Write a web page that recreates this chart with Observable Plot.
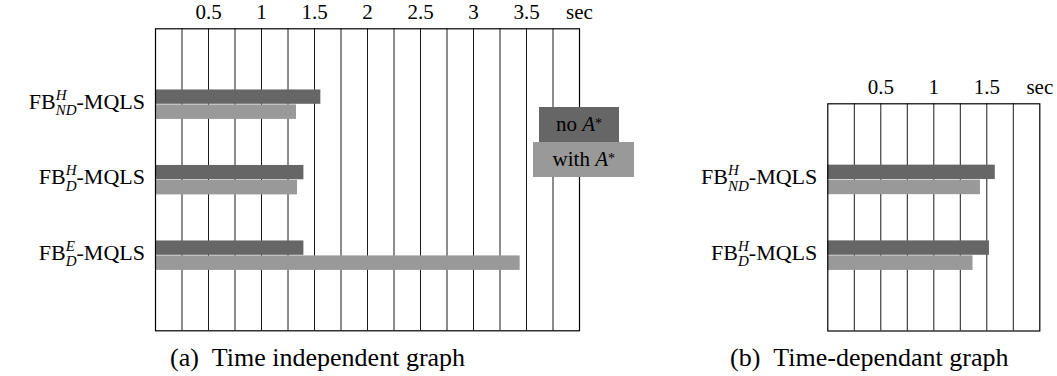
<!DOCTYPE html>
<html><head><meta charset="utf-8">
<script src="https://cdn.jsdelivr.net/npm/d3@7"></script>
<script src="https://cdn.jsdelivr.net/npm/@observablehq/plot@0.6"></script>
<style>
html,body{margin:0;padding:0;background:#fff;}
#wrap{position:relative;width:1057px;height:376px;overflow:hidden;font-family:'Liberation Serif','Tinos','Times New Roman',serif;color:#000;}
.panel{position:absolute;top:0;}
.cap{position:absolute;font-size:26px;white-space:nowrap;line-height:26px;font-family:'Liberation Serif','Tinos',serif;}
.leg{position:absolute;font-size:21px;display:flex;align-items:center;justify-content:center;box-sizing:border-box;line-height:1;font-family:'Liberation Serif','Tinos',serif;}
.leg sup{font-size:14px;line-height:0;vertical-align:9px;}
</style></head><body><div id="wrap"></div>
<script>
// ---- data ----
const categoriesA = ["FB^H_ND-MQLS", "FB^H_D-MQLS", "FB^E_D-MQLS"];
const noAStarA   = [1.56, 1.40, 1.40];
const withAStarA = [1.33, 1.34, 3.44];
const categoriesB = ["FB^H_ND-MQLS", "FB^H_D-MQLS"];
const noAStarB   = [1.58, 1.525];
const withAStarB = [1.44, 1.37];
const xTicksA = [0.5, 1, 1.5, 2, 2.5, 3, 3.5];
const xTicksB = [0.5, 1, 1.5];
const unitLabel = "sec";
const seriesNames = ["no A*", "with A*"];
const seriesColors = ["#666666", "#999999"];
const captions = ["(a)\u2002Time independent graph", "(b)\u2002Time-dependant graph"];

const FONT = "'Liberation Serif', 'Tinos', serif";
const wrap = document.getElementById("wrap");

function panel({cats, noA, withA, ticks, xMax, left, width, height, ml, mr, mt, mb}) {
  const rows = cats.map((c, i) => ({cat: c, pos: i + 1, no: noA[i], wi: withA[i]}));
  const grid = d3.range(0.25, xMax, 0.25);
  const plot = Plot.plot({
    width, height, marginLeft: ml, marginRight: mr, marginTop: mt, marginBottom: mb,
    x: {domain: [0, xMax], axis: null},
    y: {domain: [0, cats.length + 1], reverse: true, axis: null},
    style: {fontFamily: FONT, fontSize: "21px", background: "transparent", overflow: "visible", color: "#000"},
    marks: [
      Plot.ruleX(grid, {stroke: "#1a1a1a", strokeWidth: 1}),
      Plot.rect(rows, {x1: 0, x2: "no", y1: d => d.pos - 0.19, y2: d => d.pos, fill: seriesColors[0]}),
      Plot.rect(rows, {x1: 0, x2: "wi", y1: d => d.pos + 0.008, y2: d => d.pos + 0.2, fill: seriesColors[1]}),
      Plot.frame({stroke: "#000", strokeWidth: 1.2}),
      Plot.axisX(ticks.concat([xMax]), {anchor: "top", tickSize: 0, tickPadding: 10, fontSize: 21,
        fontFamily: FONT, tickFormat: d => d === xMax ? unitLabel : String(d)})
    ]
  });
  plot.classList.add("panel");
  plot.style.left = left + "px";
  wrap.appendChild(plot);
  // category labels with stacked super/subscripts
  const ys = plot.scale("y");
  const ctx = document.createElement("canvas").getContext("2d");
  const fs = 22, ss = 15;
  ctx.font = `italic ${ss}px 'Liberation Serif'`;
  const g = d3.select(plot).append("g").attr("font-family", FONT).attr("font-size", fs);
  cats.forEach((c, i) => {
    const m = c.match(/^([^\^]+)\^([^_]+)_([^-]+)(.*)$/);
    const yc = ys.apply(i + 1);
    const wSup = ctx.measureText(m[2]).width, wSub = ctx.measureText(m[3]).width;
    const t = g.append("text").attr("x", ml - 10).attr("y", yc + 5).attr("text-anchor", "end");
    t.append("tspan").text(m[1]);
    t.append("tspan").attr("font-size", ss).attr("font-style", "italic").attr("dy", -9).text(m[2]);
    t.append("tspan").attr("font-size", ss).attr("font-style", "italic").attr("dx", -wSup).attr("dy", 15.5).text(m[3]);
    t.append("tspan").attr("dx", Math.max(0, wSup - wSub)).attr("dy", -6.5).text(m[4]);
  });
  return plot;
}

panel({cats: categoriesA, noA: noAStarA, withA: withAStarA, ticks: xTicksA, xMax: 4,
  left: 0, width: 660, height: 340, ml: 155, mr: 81, mt: 28.3, mb: 9.7});
panel({cats: categoriesB, noA: noAStarB, withA: withAStarB, ticks: xTicksB, xMax: 2,
  left: 680, width: 377, height: 340, ml: 147.3, mr: 17.7, mt: 103.3, mb: 9.5});

// legend
function legItem(name, color, left, top, w, h) {
  const d = document.createElement("div");
  d.className = "leg";
  Object.assign(d.style, {left: left + "px", top: top + "px", width: w + "px", height: h + "px", background: color});
  const m = name.match(/^(.*?) (A)(\*)$/);
  d.innerHTML = `${m[1]}&nbsp;<i>${m[2]}</i><sup>${m[3]}</sup>`;
  wrap.appendChild(d);
}
legItem(seriesNames[0], seriesColors[0], 539, 106.7, 80, 35);
legItem(seriesNames[1], seriesColors[1], 533.3, 141.7, 101, 35);

// captions
function cap(text, left, top) {
  const d = document.createElement("div");
  d.className = "cap";
  d.textContent = text;
  Object.assign(d.style, {left: left + "px", top: top + "px"});
  wrap.appendChild(d);
}
cap(captions[0], 170, 345);
cap(captions[1], 730, 345);
</script>
</body></html>
